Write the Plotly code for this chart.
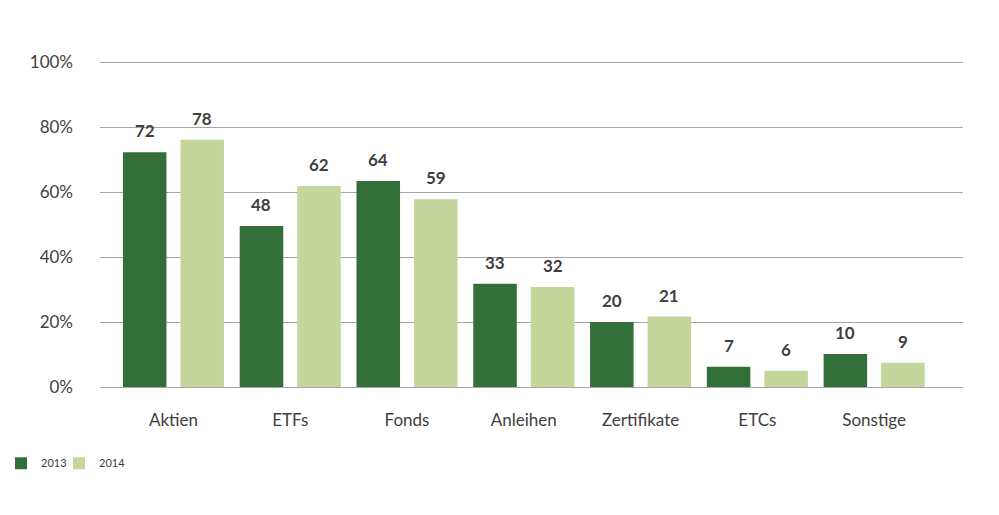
import plotly.graph_objects as go

categories = ["Aktien", "ETFs", "Fonds", "Anleihen", "Zertifikate", "ETCs", "Sonstige"]
series_names = ["2013", "2014"]
values_2013 = [72.3, 49.6, 63.4, 31.8, 20.0, 6.2, 10.2]
values_2014 = [76.1, 61.9, 57.8, 30.8, 21.7, 5.0, 7.5]
labels_2013 = ["72", "48", "64", "33", "20", "7", "10"]
labels_2014 = ["78", "62", "59", "32", "21", "6", "9"]
y_tickvals = [0, 20, 40, 60, 80, 100]
y_ticktext = ["0%", "20%", "40%", "60%", "80%", "100%"]

DARK = "#336f38"
LIGHT = "#c4d69c"
TEXT = "#404040"
FONT = "Lato"

fig = go.Figure()
fig.add_trace(go.Bar(name=series_names[0], x=categories, y=values_2013,
                     marker=dict(color=DARK, line=dict(width=0)), legend="legend"))
fig.add_trace(go.Bar(name=series_names[1], x=categories, y=values_2014,
                     marker=dict(color=LIGHT, line=dict(width=0)), legend="legend2"))

bargap = 0.015
bargroupgap = 0.243
slot = (1 - bargap) / 2
annotations = []
for i in range(len(categories)):
    for vals, labs, sign in ((values_2013, labels_2013, -1), (values_2014, labels_2014, 1)):
        annotations.append(dict(
            x=i + sign * slot / 2, y=vals[i], xref="x", yref="y",
            text="<b>" + labs[i] + "</b>", showarrow=False,
            yanchor="bottom", yshift=9,
            font=dict(family=FONT, size=17, color=TEXT)))

legend_common = dict(orientation="h", xanchor="left", y=-0.188, yanchor="top",
                     font=dict(family=FONT, size=11, color=TEXT), itemwidth=30,
                     bgcolor="rgba(0,0,0,0)")

fig.update_layout(
    barmode="group", bargap=bargap, bargroupgap=bargroupgap,
    width=999, height=515,
    margin=dict(l=100, r=36, t=59, b=128, autoexpand=False),
    paper_bgcolor="white", plot_bgcolor="white",
    font=dict(family=FONT, color=TEXT),
    annotations=annotations,
    showlegend=True,
    legend=dict(x=-0.1147, **legend_common),
    legend2=dict(x=-0.0475, **legend_common),
)
fig.update_xaxes(type="category", range=[-0.629, 6.761], showgrid=False,
                 showline=True, linecolor="#a6a6a6", linewidth=1,
                 tickfont=dict(family=FONT, size=17, color=TEXT),
                 ticks="", ticklabelstandoff=18, automargin=False)
fig.update_yaxes(range=[0, 101], tickvals=y_tickvals, ticktext=y_ticktext,
                 showgrid=True, gridcolor="#a6a6a6", gridwidth=1,
                 zeroline=False, showline=False,
                 tickfont=dict(family=FONT, size=17, color=TEXT),
                 ticks="", ticklabelstandoff=26, automargin=False)

fig.write_html("out.html", config={"displayModeBar": False},
               post_script="document.body.style.margin='0';")
